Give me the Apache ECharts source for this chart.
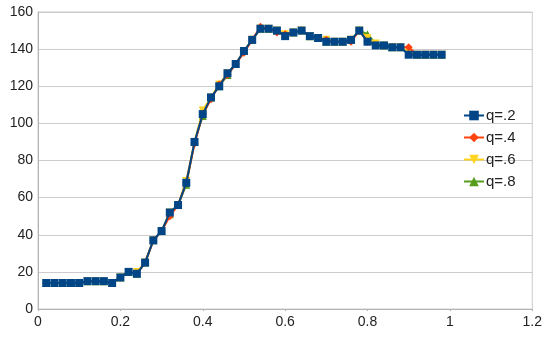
<!DOCTYPE html>
<html>
<head>
<meta charset="utf-8">
<script src="https://cdn.jsdelivr.net/npm/echarts@6/dist/echarts.min.js"></script>
<style>
  html, body { margin: 0; padding: 0; background: #fff; }
  #chart { width: 545px; height: 338px; }
</style>
</head>
<body>
<div id="chart"></div>
<script>
// x positions shared by all series
const xs = [0.02,0.04,0.06,0.08,0.10,0.12,0.14,0.16,0.18,0.20,
            0.22,0.24,0.26,0.28,0.30,0.32,0.34,0.36,0.38,0.40,
            0.42,0.44,0.46,0.48,0.50,0.52,0.54,0.56,0.58,0.60,
            0.62,0.64,0.66,0.68,0.70,0.72,0.74,0.76,0.78,0.80,
            0.82,0.84,0.86,0.88,0.90,0.92,0.94,0.96,0.98];

const q2 = [14,14,14,14,14,15,15,15,14,17,
            20,19,25,37,42,52,56,68,90,105,
            114,120,127,132,139,145,151,151,150,147,
            149,150,147,146,144,144,144,145,150,144,
            142,142,141,141,137,137,137,137,137];

const q4 = [14,14,14,14,14,15,15,15,14,17,
            20,19,25,37,42,50,56,68,89,105,
            113,121,126,132,138,145,152,151,149,148,
            149,150,147,146,145,144,144,144,150,144,
            142,142,141,141,141,137,137,137,137];

const q6 = [14,14,14,14,14,15,15,15,14,17,
            20,20,25,37,42,52,56,69,90,107,
            114,121,127,132,139,145,151,151,150,148,
            149,150,147,146,145,144,144,145,150,146,
            143,142,141,141,138,137,137,137,137];

const q8 = [14,14,14,14,14,15,15,15,14,17,
            20,19,25,37,42,51,56,67,90,104,
            114,120,126,132,139,145,151,151,150,148,
            149,150,147,146,144,144,144,145,150,148,
            143,142,141,141,138,137,137,137,137];

const names = ['q=.2', 'q=.4', 'q=.6', 'q=.8'];
const colors = ['#004586', '#ff420e', '#ffd320', '#579d1c'];
const symbols = ['rect', 'diamond', 'path://M0,0 L10,0 L5,9 Z', 'triangle'];
const values = [q2, q4, q6, q8];
const zs = [6, 5, 4, 3];

const series = names.map((n, i) => ({
  name: n,
  type: 'line',
  data: xs.map((x, k) => [x, values[i][k]]),
  symbol: symbols[i],
  symbolSize: 8,
  showSymbol: true,
  z: zs[i],
  color: colors[i],
  lineStyle: { width: 2, color: colors[i] },
  itemStyle: { color: colors[i] },
  emphasis: { disabled: true },
  animation: false
}));

const chart = echarts.init(document.getElementById('chart'), null, { renderer: 'canvas' });
chart.setOption({
  animation: false,
  textStyle: { fontFamily: 'Liberation Sans, Arial, sans-serif' },
  grid: {
    left: 38, right: 12, top: 12, bottom: 29,
    show: true, borderColor: '#cccccc', borderWidth: 1
  },
  legend: {
    orient: 'vertical',
    left: 458, top: 103,
    itemWidth: 20, itemHeight: 12,
    itemGap: 7,
    data: names,
    textStyle: { fontSize: 15, color: '#222', padding: [0, 0, 0, -3] }
  },
  xAxis: {
    type: 'value',
    min: 0, max: 1.2, interval: 0.2,
    axisLine: { show: true, onZero: false, lineStyle: { color: '#b3b3b3' } },
    axisTick: { show: true, length: 2, lineStyle: { color: '#b3b3b3' } },
    splitLine: { show: false },
    axisLabel: {
      color: '#222', fontSize: 14, margin: 6,
      formatter: v => (Math.round(v * 10) / 10).toString()
    }
  },
  yAxis: {
    type: 'value',
    min: 0, max: 160, interval: 20,
    axisLine: { show: true, lineStyle: { color: '#b3b3b3' } },
    axisTick: { show: false },
    splitLine: { show: true, lineStyle: { color: '#cccccc', width: 1 } },
    axisLabel: { color: '#222', fontSize: 14, margin: 5 }
  },
  series: series
});
</script>
</body>
</html>
